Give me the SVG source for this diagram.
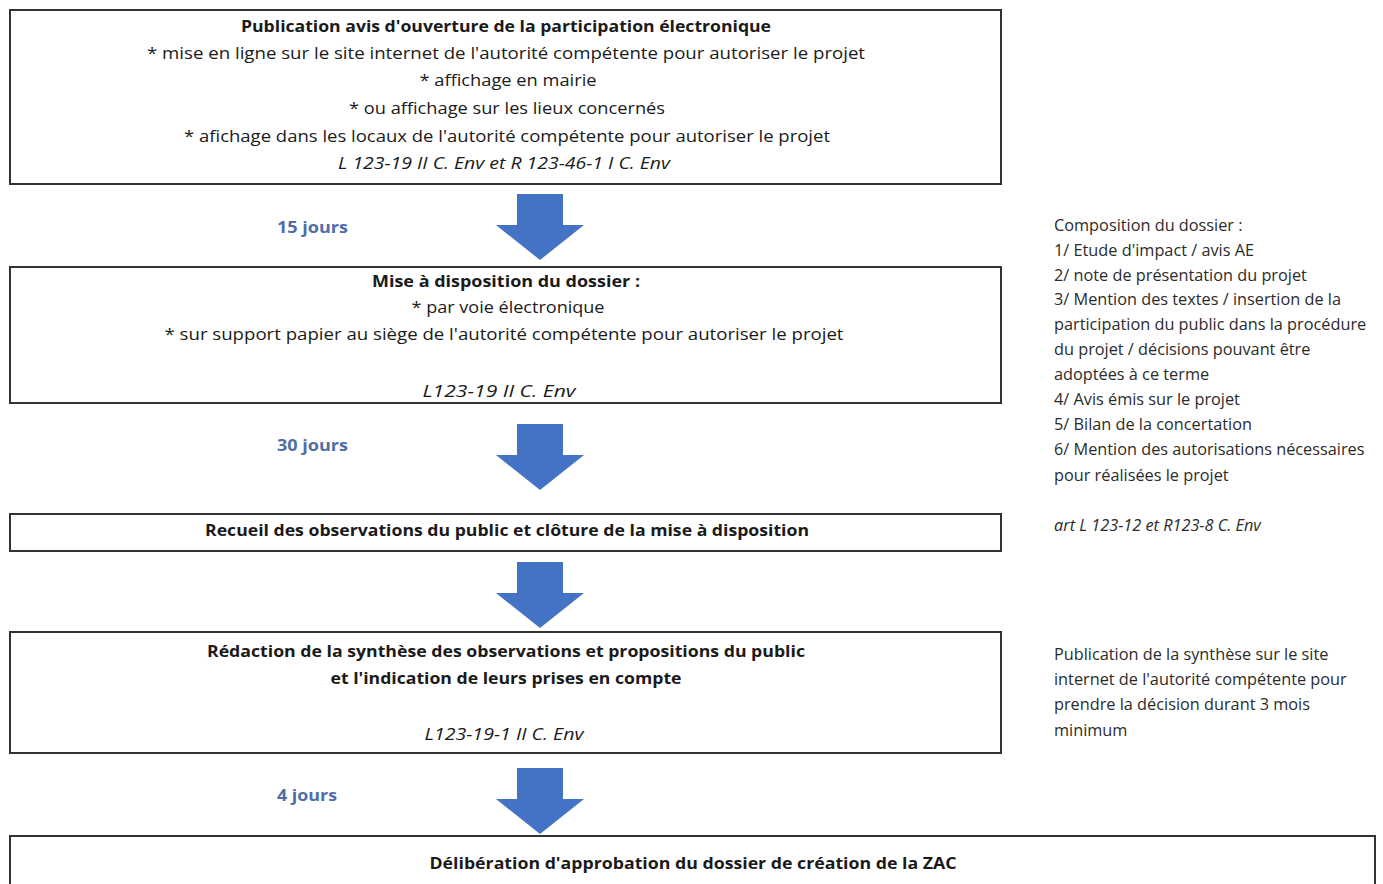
<svg xmlns="http://www.w3.org/2000/svg" width="1383" height="884" viewBox="0 0 1383 884">
<style>
.box{fill:#fff;stroke:#333;stroke-width:2}
text{font-family:"Open Sans","Liberation Sans",sans-serif;fill:#1a1a1a;font-size:16px}
.c{text-anchor:middle}
.b{font-weight:bold}
.i{font-style:italic}
.lbl{font-family:"Open Sans","Liberation Sans",sans-serif;font-weight:bold;fill:#4E6EA8;font-size:16px}
.side{font-size:16.3px;fill:#2b2b2b}
.arrow{fill:#4472C4}
</style>
<rect width="1383" height="884" fill="#fff"/>
<g id="node-publication">
<rect class="box" x="10" y="10" width="991" height="174"/>
<text class="c b" x="506" y="32" textLength="530" lengthAdjust="spacingAndGlyphs">Publication avis d'ouverture de la participation électronique</text>
<text class="c" x="506" y="59" textLength="718" lengthAdjust="spacingAndGlyphs">* mise en ligne sur le site internet de l'autorité compétente pour autoriser le projet</text>
<text class="c" x="508" y="86" textLength="177" lengthAdjust="spacingAndGlyphs">* affichage en mairie</text>
<text class="c" x="507" y="114" textLength="316" lengthAdjust="spacingAndGlyphs">* ou affichage sur les lieux concernés</text>
<text class="c" x="507" y="142" textLength="646" lengthAdjust="spacingAndGlyphs">* afichage dans les locaux de l'autorité compétente pour autoriser le projet</text>
<text class="c i" x="504" y="169" textLength="332" lengthAdjust="spacingAndGlyphs">L 123-19 II C. Env et R 123-46-1 I C. Env</text>
</g>
<g id="node-mise-a-disposition">
<rect class="box" x="10" y="267" width="991" height="136"/>
<text class="c b" x="506" y="287" textLength="268" lengthAdjust="spacingAndGlyphs">Mise à disposition du dossier :</text>
<text class="c" x="508" y="313" textLength="193" lengthAdjust="spacingAndGlyphs">* par voie électronique</text>
<text class="c" x="504" y="340" textLength="679" lengthAdjust="spacingAndGlyphs">* sur support papier au siège de l'autorité compétente pour autoriser le projet</text>
<text class="c i" x="499" y="397" textLength="153" lengthAdjust="spacingAndGlyphs">L123-19 II C. Env</text>
</g>
<g id="node-recueil">
<rect class="box" x="10" y="514" width="991" height="37"/>
<text class="c b" x="507" y="536" textLength="604" lengthAdjust="spacingAndGlyphs">Recueil des observations du public et clôture de la mise à disposition</text>
</g>
<g id="node-redaction">
<rect class="box" x="10" y="632" width="991" height="121"/>
<text class="c b" x="506" y="657" textLength="598" lengthAdjust="spacingAndGlyphs">Rédaction de la synthèse des observations et propositions du public</text>
<text class="c b" x="506" y="684" textLength="351" lengthAdjust="spacingAndGlyphs">et l'indication de leurs prises en compte</text>
<text class="c i" x="504" y="740" textLength="159" lengthAdjust="spacingAndGlyphs">L123-19-1 II C. Env</text>
</g>
<g id="node-deliberation">
<rect class="box" x="10" y="836" width="1365" height="80"/>
<text class="c b" x="693" y="869" textLength="527" lengthAdjust="spacingAndGlyphs">Délibération d'approbation du dossier de création de la ZAC</text>
</g>
<g id="connectors">
<polygon class="arrow" points="517,194 563,194 563,225 584,225 540,260 496,225 517,225"/>
<polygon class="arrow" points="517,424 563,424 563,455 584,455 540,490 496,455 517,455"/>
<polygon class="arrow" points="517,562 563,562 563,593 584,593 540,628 496,593 517,593"/>
<polygon class="arrow" points="517,768 563,768 563,799 584,799 540,834 496,799 517,799"/>
<text class="lbl" x="277" y="233" textLength="71" lengthAdjust="spacingAndGlyphs">15 jours</text>
<text class="lbl" x="277" y="451" textLength="71" lengthAdjust="spacingAndGlyphs">30 jours</text>
<text class="lbl" x="277" y="801" textLength="60" lengthAdjust="spacingAndGlyphs">4 jours</text>
</g>
<g id="note-composition">
<text class="side" x="1054" y="231">Composition du dossier :</text>
<text class="side" x="1054" y="256">1/ Etude d'impact / avis AE</text>
<text class="side" x="1054" y="281">2/ note de présentation du projet</text>
<text class="side" x="1054" y="305">3/ Mention des textes / insertion de la</text>
<text class="side" x="1054" y="330">participation du public dans la procédure</text>
<text class="side" x="1054" y="355">du projet / décisions pouvant être</text>
<text class="side" x="1054" y="380">adoptées à ce terme</text>
<text class="side" x="1054" y="405">4/ Avis émis sur le projet</text>
<text class="side" x="1054" y="430">5/ Bilan de la concertation</text>
<text class="side" x="1054" y="455">6/ Mention des autorisations nécessaires</text>
<text class="side" x="1054" y="481">pour réalisées le projet</text>
<text class="side i" x="1054" y="531">art L 123-12 et R123-8 C. Env</text>
</g>
<g id="note-publication">
<text class="side" x="1054" y="660">Publication de la synthèse sur le site</text>
<text class="side" x="1054" y="685">internet de l'autorité compétente pour</text>
<text class="side" x="1054" y="710">prendre la décision durant 3 mois</text>
<text class="side" x="1054" y="736">minimum</text>
</g>
</svg>
